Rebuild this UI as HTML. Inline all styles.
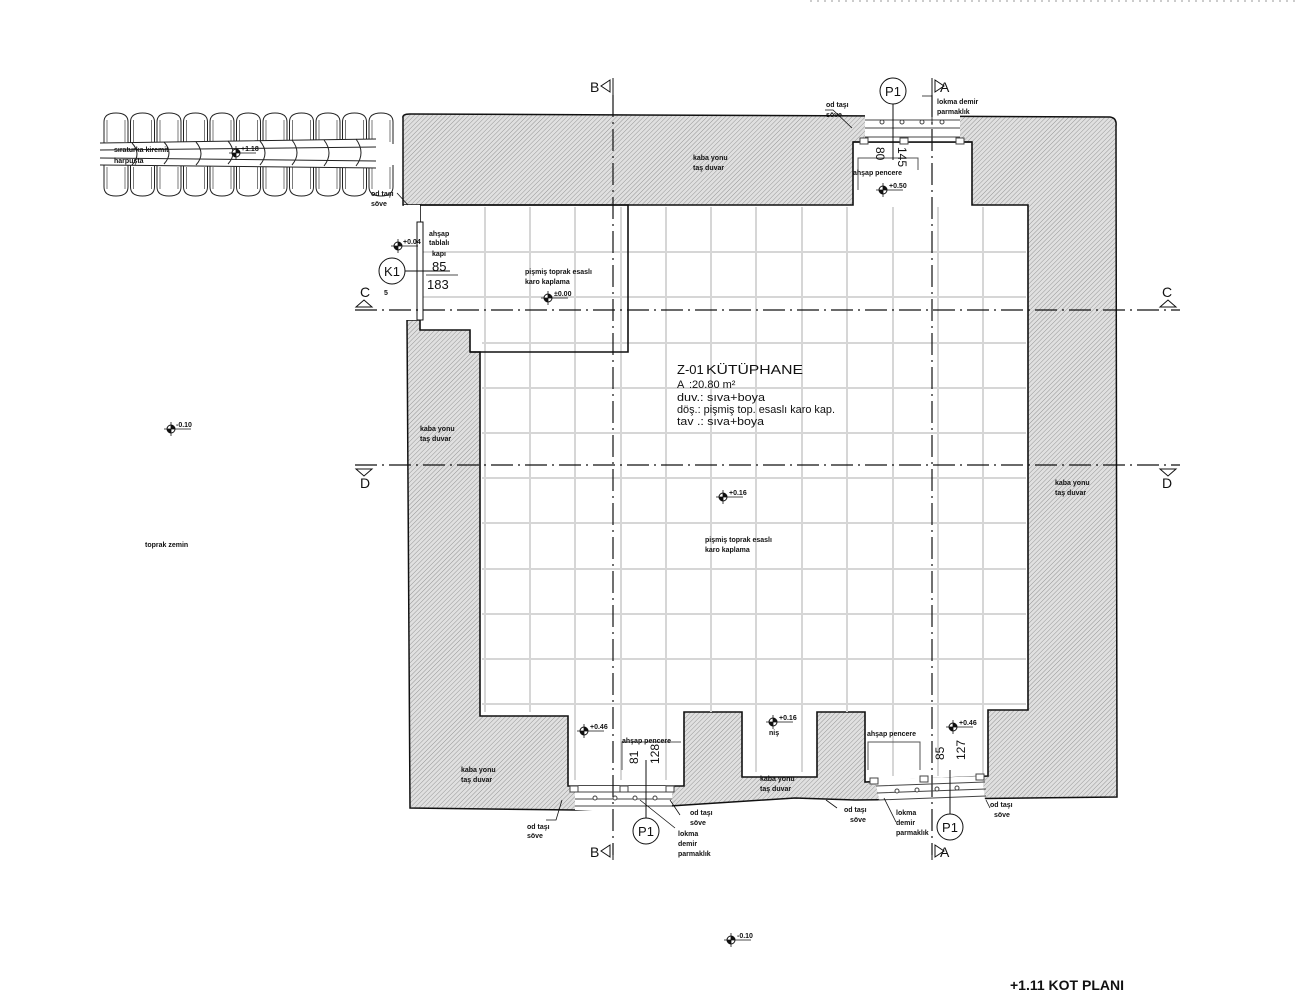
<!DOCTYPE html>
<html><head><meta charset="utf-8"><style>
html,body{margin:0;padding:0;background:#fff}
svg{display:block}
text{font-family:"Liberation Sans",sans-serif;fill:#111}
.s{font-size:7px;font-weight:bold}
</style></head><body>
<svg width="1300" height="1000" viewBox="0 0 1300 1000" xmlns="http://www.w3.org/2000/svg">
<defs>
<pattern id="h" width="3.2" height="3.2" patternUnits="userSpaceOnUse" patternTransform="rotate(45)">
<rect width="3.2" height="3.2" fill="#e0e0e0"/><line x1="0" y1="0" x2="0" y2="3.2" stroke="#8f8f8f" stroke-width="0.9"/>
</pattern>
<g id="el"><circle r="4" fill="#fff" stroke="#111" stroke-width="1"/><path d="M0,-4 A4,4 0 0 1 4,0 L0,0Z M0,4 A4,4 0 0 1 -4,0 L0,0Z" fill="#111"/><line x1="-7" y1="0" x2="20" y2="0" stroke="#111" stroke-width="0.8"/><line x1="0" y1="-7" x2="0" y2="7" stroke="#111" stroke-width="0.8"/></g>
<g id="tt"><path d="M0,0 V22 q0,9 12,9 q12,0 12,-9 V0" fill="#fff" stroke="#222" stroke-width="1"/><line x1="3" y1="2" x2="3" y2="24" stroke="#222" stroke-width=".6"/><line x1="21" y1="2" x2="21" y2="24" stroke="#222" stroke-width=".6"/></g>
<g id="tb"><path d="M0,31 V9 q0,-9 12,-9 q12,0 12,9 V31" fill="#fff" stroke="#222" stroke-width="1"/><line x1="3" y1="7" x2="3" y2="29" stroke="#222" stroke-width=".6"/><line x1="21" y1="7" x2="21" y2="29" stroke="#222" stroke-width=".6"/></g>
</defs>
<line x1="810" y1="1" x2="1300" y2="1" stroke="#999" stroke-width="1" stroke-dasharray="2,5"/>

<!-- roof tiles -->
<g>
<use href="#tb" x="104" y="113"/><use href="#tb" x="130.5" y="113"/><use href="#tb" x="157" y="113"/><use href="#tb" x="183.5" y="113"/><use href="#tb" x="210" y="113"/><use href="#tb" x="236.5" y="113"/><use href="#tb" x="263" y="113"/><use href="#tb" x="289.5" y="113"/><use href="#tb" x="316" y="113"/><use href="#tb" x="342.5" y="113"/><use href="#tb" x="369" y="113"/>
<use href="#tt" x="104" y="165"/><use href="#tt" x="130.5" y="165"/><use href="#tt" x="157" y="165"/><use href="#tt" x="183.5" y="165"/><use href="#tt" x="210" y="165"/><use href="#tt" x="236.5" y="165"/><use href="#tt" x="263" y="165"/><use href="#tt" x="289.5" y="165"/><use href="#tt" x="316" y="165"/><use href="#tt" x="342.5" y="165"/><use href="#tt" x="369" y="165"/>
</g>
<path d="M100,143 L376,139 L376,168 L100,165 Z" fill="#fff"/>
<g stroke="#222" stroke-width="1" fill="none">
<path d="M100,143 L376,139 M100,165 L376,168 M100,150 L376,147 M100,158 L376,161"/>
<path d="M132,143 q10,11 0,22 M164,142 q10,11 0,22 M196,142 q10,12 0,23 M228,141 q10,12 0,23 M260,141 q10,12 0,24 M292,140 q10,13 0,25 M324,140 q10,13 0,26 M356,139 q10,14 0,27"/>
</g>
<text class="s" x="114" y="152">sıraturka kiremit</text>
<text class="s" x="114" y="163">harpuşta</text>
<use href="#el" x="236" y="153"/><text class="s" x="241" y="151">+1.18</text>

<!-- walls -->
<path d="M403,118 Q402,114 410,114 L1110,117 Q1117,118 1116,126 L1117,797 L855,800 L795,798 L670,806 L575,810 L410,808 L407,320 L420,320 L420,205 L403,205 Z" fill="url(#h)" stroke="#111" stroke-width="1.5"/>
<path d="M420,205 L853,205 L853,142 L972,142 L972,205 L1028,205 L1028,710 L988,710 L988,776 L865,782 L865,712 L817,712 L817,777 L742,777 L742,712 L684,712 L684,786 L568,786 L568,716 L480,716 L480,352 L470,352 L470,330 L420,330 Z" fill="#fff" stroke="#111" stroke-width="1.6"/>
<rect x="865" y="115" width="95" height="27" fill="#fff"/>
<rect x="575" y="786" width="97" height="24" fill="#fff"/>
<path d="M875,780 L982,776 L985,800 L880,803 Z" fill="#fff"/>
<rect x="404" y="205" width="16" height="115" fill="#fff"/>
<g stroke="#d6d6d6" stroke-width="2">
<path d="M485,207 V712 M530,207 V712 M575,207 V780 M621,207 V780 M666,207 V780 M711,207 V712 M756,207 V772 M802,207 V772 M847,207 V712 M893,207 V776 M938,207 V776 M983,207 V776"/>
<path d="M422,252 H1026 M422,297 H1026 M482,343 H1026 M482,388 H1026 M482,433 H1026 M482,478 H1026 M482,523 H1026 M482,569 H1026 M482,614 H1026 M482,659 H1026 M482,704 H1026"/>
</g>
<path d="M420,205 H628 V352 H470" fill="none" stroke="#111" stroke-width="1.6"/>
<path d="M853,142 H972" stroke="#111" stroke-width="1.6"/>
<rect x="417" y="222" width="6" height="98" fill="#fff" stroke="#111" stroke-width="1"/>
<g stroke="#111" stroke-width="1.2" stroke-dasharray="22,5,2,5" fill="none">
<line x1="613" y1="95" x2="613" y2="855"/>
<line x1="932" y1="95" x2="932" y2="855"/>
<line x1="355" y1="310" x2="1180" y2="310"/>
<line x1="355" y1="465" x2="1180" y2="465"/>
</g>
<g font-size="14" font-family="Liberation Sans">
<text x="590" y="92">B</text><path d="M610,80 L601,86 L610,92 Z M613,78 V95" fill="none" stroke="#111"/>
<text x="590" y="857">B</text><path d="M610,845 L601,851 L610,857 Z M613,843 V860" fill="none" stroke="#111"/>
<text x="940" y="92">A</text><path d="M935,80 L944,86 L935,92 Z M932,78 V95" fill="none" stroke="#111"/>
<text x="940" y="857">A</text><path d="M935,845 L944,851 L935,857 Z M932,843 V860" fill="none" stroke="#111"/>
<text x="360" y="297">C</text><path d="M356,307 L364,300 L372,307 Z" fill="none" stroke="#111"/>
<text x="1162" y="297">C</text><path d="M1160,307 L1168,300 L1176,307 Z" fill="none" stroke="#111"/>
<text x="360" y="488">D</text><path d="M356,469 L364,476 L372,469 Z" fill="none" stroke="#111"/>
<text x="1162" y="488">D</text><path d="M1160,469 L1168,476 L1176,469 Z" fill="none" stroke="#111"/>
</g>
<g stroke="#444" stroke-width="1" fill="#fff">
<path d="M865,120 H960 M865,128 H960 M865,137 H960"/>
<circle cx="882" cy="122" r="2"/><circle cx="902" cy="122" r="2"/><circle cx="922" cy="122" r="2"/><circle cx="942" cy="122" r="2"/>
<path d="M575,792 H672 M575,799 H672 M575,806 H672"/>
<circle cx="595" cy="798" r="2"/><circle cx="615" cy="798" r="2"/><circle cx="635" cy="798" r="2"/><circle cx="655" cy="798" r="2"/>
<path d="M876,786 L985,782 M877,793 L986,789 M878,800 L986,796"/>
<circle cx="897" cy="791" r="2"/><circle cx="917" cy="790" r="2"/><circle cx="937" cy="789" r="2"/><circle cx="957" cy="788" r="2"/>
<rect x="860" y="138" width="8" height="6"/><rect x="956" y="138" width="8" height="6"/><rect x="900" y="138" width="8" height="6"/>
<rect x="570" y="786" width="8" height="6"/><rect x="666" y="786" width="8" height="6"/><rect x="620" y="786" width="8" height="6"/>
<rect x="870" y="778" width="8" height="6"/><rect x="976" y="774" width="8" height="6"/><rect x="920" y="776" width="8" height="6"/>
</g>
<g stroke="#555" stroke-width="1" fill="none">
<path d="M858,190 V158 H918 V170"/><path d="M622,770 V742 H681"/><path d="M868,770 V742 H920 V770"/>
</g>
<g fill="#fff" stroke="#111" stroke-width="1">
<circle cx="893" cy="91" r="13"/><line x1="893" y1="104" x2="893" y2="160"/>
<circle cx="646" cy="831" r="13"/><line x1="646" y1="818" x2="646" y2="760"/>
<circle cx="950" cy="827" r="13"/><line x1="950" y1="814" x2="950" y2="770"/>
<circle cx="392" cy="271" r="13"/><line x1="405" y1="271" x2="450" y2="271"/>
</g>
<g font-size="13" text-anchor="middle">
<text x="893" y="96">P1</text><text x="646" y="836">P1</text><text x="950" y="832">P1</text><text x="392" y="276">K1</text>
</g>
<text x="384" y="295" class="s" font-size="8">5</text>
<g font-size="13"><text x="432" y="271">85</text><text x="427" y="289">183</text></g>
<line x1="426" y1="275" x2="458" y2="275" stroke="#111" stroke-width=".8"/>
<g font-size="12">
<text transform="translate(876,147) rotate(90)">80</text>
<text transform="translate(898,147) rotate(90)">145</text>
<text transform="translate(638,764) rotate(-90)">81</text>
<text transform="translate(659,764) rotate(-90)">128</text>
<text transform="translate(944,760) rotate(-90)">85</text>
<text transform="translate(965,760) rotate(-90)">127</text>
</g>
<g stroke="#111" stroke-width=".8" fill="none">
<path d="M825,110 L833,110 L852,128"/><path d="M922,96 H932 V125"/><path d="M397,193 L408,205"/>
<path d="M546,820 H556 L562,800"/><path d="M680,815 L670,800"/><path d="M675,828 L640,800"/>
<path d="M837,808 L826,800"/><path d="M896,822 L884,798"/><path d="M990,808 L986,800"/>
</g>
<g class="s">
<text x="826" y="107">od taşı</text><text x="826" y="117">söve</text>
<text x="937" y="104">lokma demir</text><text x="937" y="114">parmaklık</text>
<text x="853" y="175">ahşap pencere</text>
<text x="371" y="196">od taşı</text><text x="371" y="206">söve</text>
<text x="429" y="236">ahşap</text><text x="429" y="245">tablalı</text><text x="432" y="256">kapı</text>
<text x="525" y="274">pişmiş toprak esaslı</text><text x="525" y="284">karo kaplama</text>
<text x="693" y="160">kaba yonu</text><text x="693" y="170">taş duvar</text>
<text x="420" y="431">kaba yonu</text><text x="420" y="441">taş duvar</text>
<text x="1055" y="485">kaba yonu</text><text x="1055" y="495">taş duvar</text>
<text x="145" y="547">toprak zemin</text>
<text x="705" y="542">pişmiş toprak esaslı</text><text x="705" y="552">karo kaplama</text>
<text x="461" y="772">kaba yonu</text><text x="461" y="782">taş duvar</text>
<text x="760" y="781">kaba yonu</text><text x="760" y="791">taş duvar</text>
<text x="622" y="743">ahşap pencere</text>
<text x="867" y="736">ahşap pencere</text>
<text x="769" y="735">niş</text>
<text x="527" y="829">od taşı</text><text x="527" y="838">söve</text>
<text x="690" y="815">od taşı</text><text x="690" y="825">söve</text>
<text x="678" y="836">lokma</text><text x="678" y="846">demir</text><text x="678" y="856">parmaklık</text>
<text x="844" y="812">od taşı</text><text x="850" y="822">söve</text>
<text x="896" y="815">lokma</text><text x="896" y="825">demir</text><text x="896" y="835">parmaklık</text>
<text x="990" y="807">od taşı</text><text x="994" y="817">söve</text>
</g>
<use href="#el" x="398" y="246"/><text class="s" x="403" y="244">+0.04</text>
<use href="#el" x="548" y="298"/><text class="s" x="554" y="296">±0.00</text>
<use href="#el" x="883" y="190"/><text class="s" x="889" y="188">+0.50</text>
<use href="#el" x="171" y="429"/><text class="s" x="176" y="427">-0.10</text>
<use href="#el" x="723" y="497"/><text class="s" x="729" y="495">+0.16</text>
<use href="#el" x="584" y="731"/><text class="s" x="590" y="729">+0.46</text>
<use href="#el" x="773" y="722"/><text class="s" x="779" y="720">+0.16</text>
<use href="#el" x="953" y="727"/><text class="s" x="959" y="725">+0.46</text>
<use href="#el" x="731" y="940"/><text class="s" x="737" y="938">-0.10</text>
<text x="677" y="374" font-size="13">Z-01</text><text x="706" y="374" font-size="13" textLength="97" lengthAdjust="spacingAndGlyphs">KÜTÜPHANE</text>
<g font-size="11">
<text x="677" y="388">A</text><text x="689" y="388">:20.80  m²</text>
<text x="677" y="401" textLength="88" lengthAdjust="spacingAndGlyphs">duv.: sıva+boya</text>
<text x="677" y="413" textLength="158" lengthAdjust="spacingAndGlyphs">döş.: pişmiş top. esaslı karo kap.</text>
<text x="677" y="425" textLength="87" lengthAdjust="spacingAndGlyphs">tav .: sıva+boya</text></g>
<text x="1010" y="990" font-size="14" font-weight="bold">+1.11 KOT PLANI</text>
</svg>
</body></html>
